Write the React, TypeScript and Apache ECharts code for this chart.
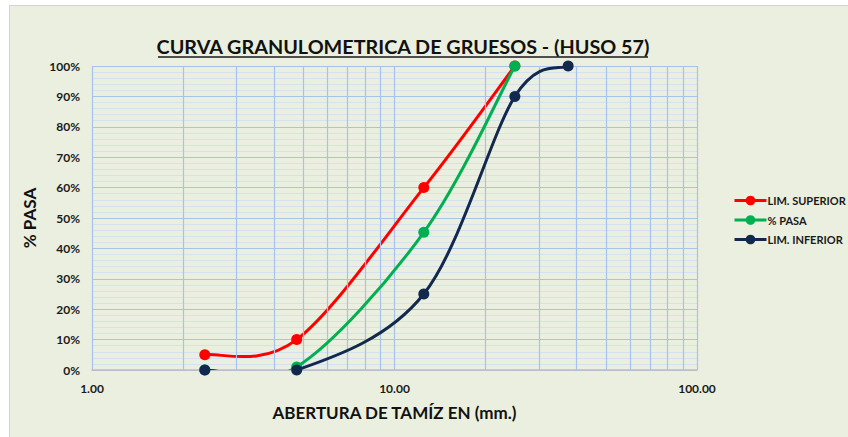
import React, { useEffect, useRef } from "react";
import * as echarts from "echarts";

const sieveSizes = [2.36, 4.75, 12.5, 25, 37.5];
const limSuperior: (number | null)[] = [5, 10, 60, 100, null];
const pasa: (number | null)[] = [0, 1, 45.3, 100, null];
const limInferior: (number | null)[] = [0, 0, 25, 90, 100];
const minorGridX = [2, 3, 4, 5, 6, 7, 8, 9, 20, 30, 40, 50, 60, 70, 80, 90];
const seriesNames = ["LIM. SUPERIOR", "% PASA", "LIM. INFERIOR"];
const seriesColors = ["#FF0000", "#00B050", "#12294D"];
const titleText = "CURVA GRANULOMETRICA DE GRUESOS - (HUSO 57)";
const xName = "ABERTURA DE TAMÍZ EN (mm.)";
const yName = "% PASA";

const FONT = "Lato, 'Open Sans', sans-serif";
const MAJOR = "#A7C3EC";
const MINOR = "#D5E0F1";

function pairs(vals: (number | null)[]) {
  const out: number[][] = [];
  sieveSizes.forEach((x, i) => {
    const v = vals[i];
    if (v !== null && v !== undefined) out.push([x, v]);
  });
  return out;
}

// Excel-like smoothed line (Catmull-Rom to cubic Bezier) in pixel space
function buildPath(pts: number[][]) {
  if (pts.length < 2) return "";
  let d = `M${pts[0][0]},${pts[0][1]}`;
  for (let i = 0; i < pts.length - 1; i++) {
    const p0 = pts[i - 1] || pts[i];
    const p1 = pts[i];
    const p2 = pts[i + 1];
    const p3 = pts[i + 2] || p2;
    const c1x = p1[0] + (p2[0] - p0[0]) / 6;
    const c1y = p1[1] + (p2[1] - p0[1]) / 6;
    const c2x = p2[0] - (p3[0] - p1[0]) / 6;
    const c2y = p2[1] - (p3[1] - p1[1]) / 6;
    d += ` C${c1x},${c1y} ${c2x},${c2y} ${p2[0]},${p2[1]}`;
  }
  return d;
}

export default function App() {
  const ref = useRef<HTMLDivElement>(null);
  useEffect(() => {
    if (!ref.current) return;
    const chart = echarts.init(ref.current, undefined, { renderer: "svg" });
    const allVals = [limSuperior, pasa, limInferior];
    const curveSeries: any[] = [];
    seriesNames.forEach((name, i) => {
      const pts = pairs(allVals[i]);
      const color = seriesColors[i];
      curveSeries.push({
        name: name + " (curve)",
        type: "custom",
        clip: true,
        z: 3 + i * 2,
        silent: true,
        data: [pts[0]],
        encode: { x: 0, y: 1 },
        renderItem: (params: any, api: any) => {
          if (params.dataIndex !== 0) return null;
          const px = pts.map((p) => api.coord(p));
          return {
            type: "path",
            shape: { pathData: buildPath(px) },
            style: { fill: "none", stroke: color, lineWidth: 3, lineCap: "round", lineJoin: "round" },
          };
        },
      });
      curveSeries.push({
        name,
        type: "line",
        z: 4 + i * 2,
        symbol: "circle",
        symbolSize: 11,
        data: pts,
        itemStyle: { color },
        lineStyle: { color, width: 3, opacity: 0 },
        emphasis: { disabled: true },
      });
    });
    chart.setOption({
      animation: false,
      backgroundColor: "#ffffff",
      textStyle: { fontFamily: FONT },
      graphic: [
        {
          type: "rect",
          z: -10,
          silent: true,
          shape: { x: 9.5, y: 5.5, width: 860, height: 450 },
          style: { fill: "#EBEFDF", stroke: "#D3D3D3", lineWidth: 1 },
        },
        {
          type: "text",
          x: 403,
          y: 46,
          style: {
            text: titleText,
            font: `bold 19.8px ${FONT}`,
            fill: "#111111",
            textAlign: "center",
            textVerticalAlign: "middle",
          },
        },
        {
          type: "line",
          shape: { x1: 158, y1: 57, x2: 648, y2: 57 },
          style: { stroke: "#1A1A1A", lineWidth: 1.5 },
        },
      ],
      legend: {
        data: seriesNames,
        orient: "vertical",
        left: 728,
        top: 190,
        itemWidth: 32,
        itemHeight: 12,
        itemGap: 8.5,
        lineStyle: { width: 3, opacity: 1 },
        textStyle: { fontFamily: FONT, fontWeight: "bold", fontSize: 11, color: "#1A1A1A", padding: [0, 0, 0, -4] },
      },
      grid: { left: 92, right: 151, top: 66, bottom: 67, containLabel: false },
      xAxis: {
        type: "log",
        logBase: 10,
        min: 1,
        max: 100,
        name: xName,
        nameLocation: "middle",
        nameGap: 34,
        nameTextStyle: { fontFamily: FONT, fontWeight: "bold", fontSize: 17, color: "#111111" },
        axisLine: { show: true, lineStyle: { color: "#BFBFBF", width: 1.5 } },
        axisTick: { show: false },
        axisLabel: {
          margin: 12,
          fontFamily: FONT,
          fontWeight: "bold",
          fontSize: 12,
          color: "#1A1A1A",
          formatter: (v: number) => v.toFixed(2),
        },
        splitLine: { show: true, lineStyle: { color: MAJOR, width: 1.2 } },
      },
      yAxis: {
        type: "value",
        min: 0,
        max: 100,
        interval: 10,
        name: yName,
        nameLocation: "middle",
        nameGap: 52,
        nameRotate: 90,
        nameTextStyle: { fontFamily: FONT, fontWeight: "bold", fontSize: 17, color: "#111111" },
        axisLine: { show: false },
        axisTick: { show: false },
        axisLabel: {
          margin: 12,
          fontFamily: FONT,
          fontWeight: "bold",
          fontSize: 12,
          color: "#1A1A1A",
          formatter: "{value}%",
        },
        splitLine: { show: true, lineStyle: { color: MAJOR, width: 1.2 } },
        minorTick: { show: false, splitNumber: 5 },
        minorSplitLine: { show: true, lineStyle: { color: MINOR, width: 1 } },
      },
      series: [
        {
          name: "minor-grid",
          type: "line",
          data: [[1, 0]],
          symbol: "none",
          lineStyle: { width: 0 },
          silent: true,
          z: 1,
          markLine: {
            silent: true,
            symbol: ["none", "none"],
            label: { show: false },
            lineStyle: { color: MAJOR, width: 1.2, type: "solid" },
            emphasis: { disabled: true },
            data: minorGridX.map((x) => ({ xAxis: x })),
          },
        },
        ...curveSeries,
      ],
    });
    return () => chart.dispose();
  }, []);
  return (
    <div
      ref={ref}
      style={{ position: "absolute", left: 0, top: 0, width: 848, height: 437 }}
    />
  );
}
